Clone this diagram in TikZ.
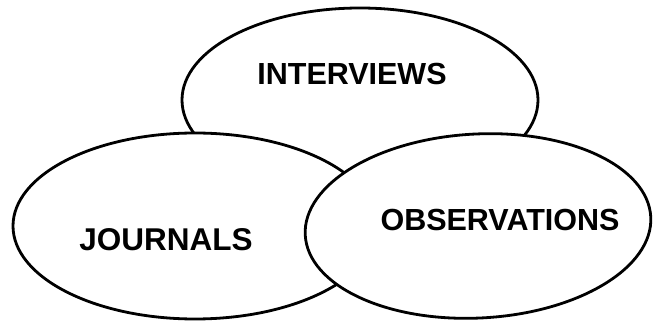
\documentclass[tikz,border=0pt]{standalone}
\usepackage{fontspec}
\setmainfont{Liberation Sans}
\usetikzlibrary{shapes.geometric}
\begin{document}
\begin{tikzpicture}[x=1pt,y=-1pt,
  blob/.style={ellipse, draw=black, fill=white, line width=2.8pt, inner sep=0pt},
  word/.style={font=\bfseries\fontsize{30.5}{37}\selectfont, inner sep=0pt}]
\useasboundingbox[fill=white] (0,0) rectangle (654,323);
% back to front: interviews, journals, observations
\node[blob, minimum width=356pt, minimum height=184pt] (interviews) at (360,100) {};
\node[blob, minimum width=364pt, minimum height=186pt] (journals) at (195,226) {};
\node[blob, minimum width=346pt, minimum height=184pt, rotate=3] (observations) at (478,226) {};
\node[word] (tInterviews) at (352,74) {INTERVIEWS};
\node[word, font=\bfseries\fontsize{31.5}{38}\selectfont] (tJournals) at (166,240) {JOURNALS};
\node[word] (tObservations) at (500,220) {OBSERVATIONS};
\end{tikzpicture}
\end{document}
